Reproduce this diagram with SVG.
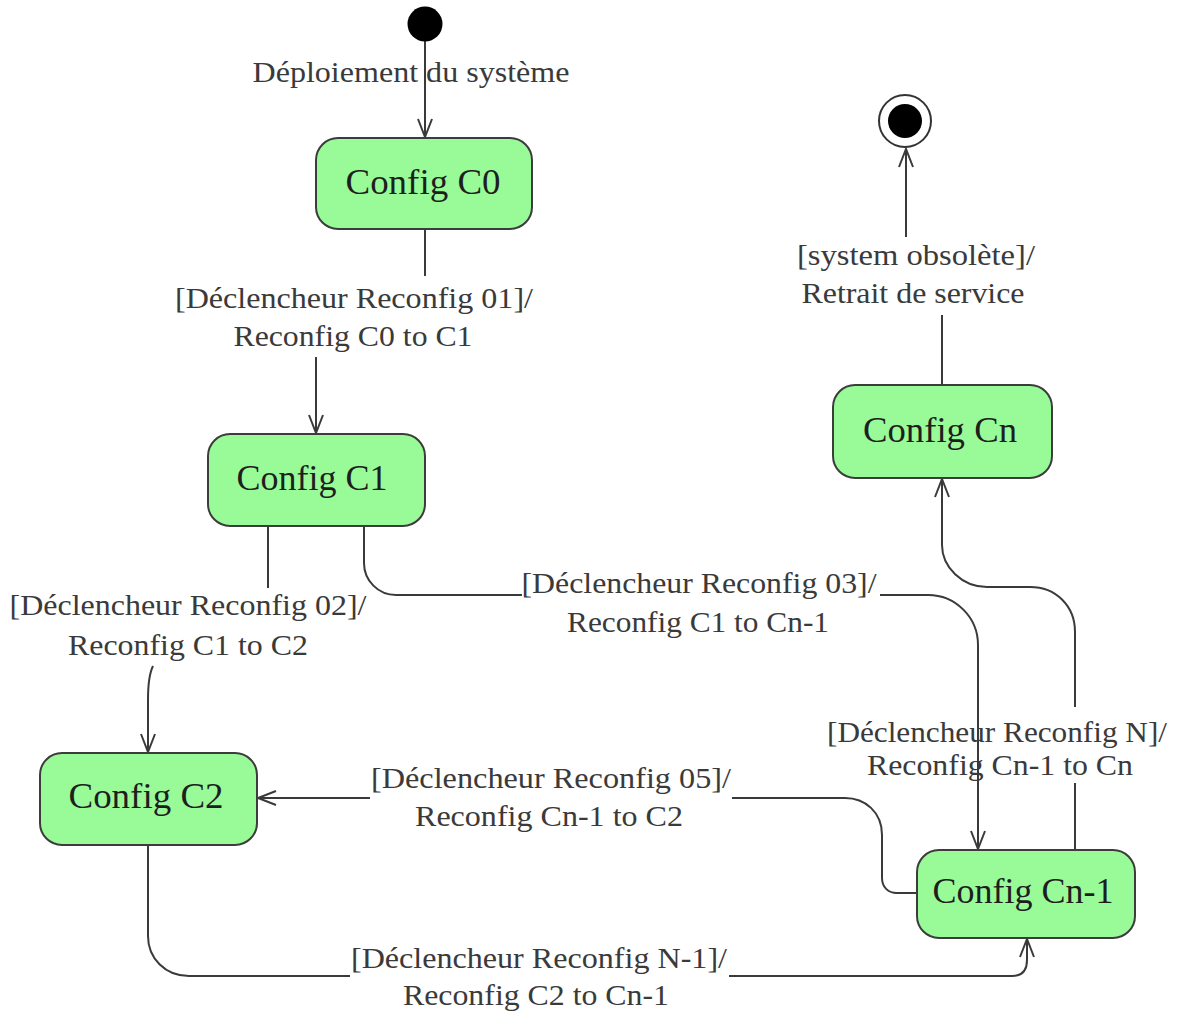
<svg xmlns="http://www.w3.org/2000/svg" width="1181" height="1013" viewBox="0 0 1181 1013">
<style>
.state{fill:#98fb98;stroke:#3c3c3c;stroke-width:2}
.name{font-family:"Liberation Serif","Times New Roman",serif;font-size:36px;fill:#1e1e1e;text-anchor:middle}
.lbl{font-family:"Liberation Serif","Times New Roman",serif;font-size:30px;fill:#3a3a3a;text-anchor:middle}
.edge{fill:none;stroke:#3a3a3a;stroke-width:2;marker-end:url(#arr)}
</style>
<defs>
<marker id="arr" markerUnits="userSpaceOnUse" markerWidth="24" markerHeight="20" viewBox="-20 -10 22 20" refX="0" refY="0" orient="auto">
<path d="M-18,-7 L0,0 L-18,7" fill="none" stroke="#3a3a3a" stroke-width="2"/>
</marker>
</defs>
<rect width="1181" height="1013" fill="#fff"/>

<g id="connectors">
<path class="edge" d="M425,41 L425,137"/>
<path class="edge" d="M425,230 L425,276 M316,357 L316,433"/>
<path class="edge" d="M268,526 L268,588 M153,666 Q148,676 148,700 L148,752"/>
<path class="edge" d="M364,526 L364,563 A32,32 0 0 0 396,595 L522,595 M880,595 L928,595 A50,50 0 0 1 978,645 L978,849"/>
<path class="edge" d="M1075,850 L1075,783 M1075,707 L1075,632 C1075,606 1056,587 1030,587 L987,587 C962,587 942,567 942,545 L942,479"/>
<path class="edge" d="M942,385 L942,315 M906,237 L906,149"/>
<path class="edge" d="M917,893 L897,893 C888,893 882,887 882,878 L882,835 C882,812 865,798 845,798 L732,798 M370,798 L258,798"/>
<path class="edge" d="M148,845 L148,936 C148,958 165,976 189,976 L350,976 M729,976 L1012,976 Q1027,976 1027,960 L1027,939"/>
</g>

<g id="initial"><circle cx="425" cy="24" r="17.5" fill="#000"/></g>
<g id="final">
<circle cx="905" cy="121" r="26" fill="#fff" stroke="#333" stroke-width="2"/>
<circle cx="905" cy="121" r="17" fill="#000"/>
</g>

<g id="c0"><rect class="state" x="316" y="138" width="216" height="91" rx="22"/><text class="name" x="423" y="194" textLength="155" lengthAdjust="spacingAndGlyphs">Config C0</text></g>
<g id="c1"><rect class="state" x="208" y="434" width="217" height="92" rx="22"/><text class="name" x="312" y="490" textLength="151" lengthAdjust="spacingAndGlyphs">Config C1</text></g>
<g id="c2"><rect class="state" x="40" y="753" width="217" height="92" rx="22"/><text class="name" x="146" y="808" textLength="155" lengthAdjust="spacingAndGlyphs">Config C2</text></g>
<g id="cn"><rect class="state" x="833" y="385" width="219" height="93" rx="22"/><text class="name" x="940" y="442" textLength="154" lengthAdjust="spacingAndGlyphs">Config Cn</text></g>
<g id="cn1"><rect class="state" x="917" y="850" width="218" height="88" rx="22"/><text class="name" x="1023" y="903" textLength="181" lengthAdjust="spacingAndGlyphs">Config Cn-1</text></g>

<g id="labels">
<text class="lbl" x="411" y="82" textLength="317" lengthAdjust="spacingAndGlyphs">Déploiement du système</text>
<text class="lbl" x="354" y="308" textLength="358" lengthAdjust="spacingAndGlyphs">[Déclencheur Reconfig 01]/</text>
<text class="lbl" x="353" y="346" textLength="239" lengthAdjust="spacingAndGlyphs">Reconfig C0 to C1</text>
<text class="lbl" x="188" y="615" textLength="357" lengthAdjust="spacingAndGlyphs">[Déclencheur Reconfig 02]/</text>
<text class="lbl" x="188" y="655" textLength="240" lengthAdjust="spacingAndGlyphs">Reconfig C1 to C2</text>
<text class="lbl" x="699" y="593" textLength="355" lengthAdjust="spacingAndGlyphs">[Déclencheur Reconfig 03]/</text>
<text class="lbl" x="698" y="632" textLength="262" lengthAdjust="spacingAndGlyphs">Reconfig C1 to Cn-1</text>
<text class="lbl" x="551" y="788" textLength="360" lengthAdjust="spacingAndGlyphs">[Déclencheur Reconfig 05]/</text>
<text class="lbl" x="549" y="826" textLength="268" lengthAdjust="spacingAndGlyphs">Reconfig Cn-1 to C2</text>
<text class="lbl" x="997" y="742" textLength="340" lengthAdjust="spacingAndGlyphs">[Déclencheur Reconfig N]/</text>
<text class="lbl" x="1000" y="775" textLength="266" lengthAdjust="spacingAndGlyphs">Reconfig Cn-1 to Cn</text>
<text class="lbl" x="539" y="968" textLength="376" lengthAdjust="spacingAndGlyphs">[Déclencheur Reconfig N-1]/</text>
<text class="lbl" x="536" y="1005" textLength="266" lengthAdjust="spacingAndGlyphs">Reconfig C2 to Cn-1</text>
<text class="lbl" x="916" y="265" textLength="238" lengthAdjust="spacingAndGlyphs">[system obsolète]/</text>
<text class="lbl" x="913" y="303" textLength="223" lengthAdjust="spacingAndGlyphs">Retrait de service</text>
</g>
</svg>
